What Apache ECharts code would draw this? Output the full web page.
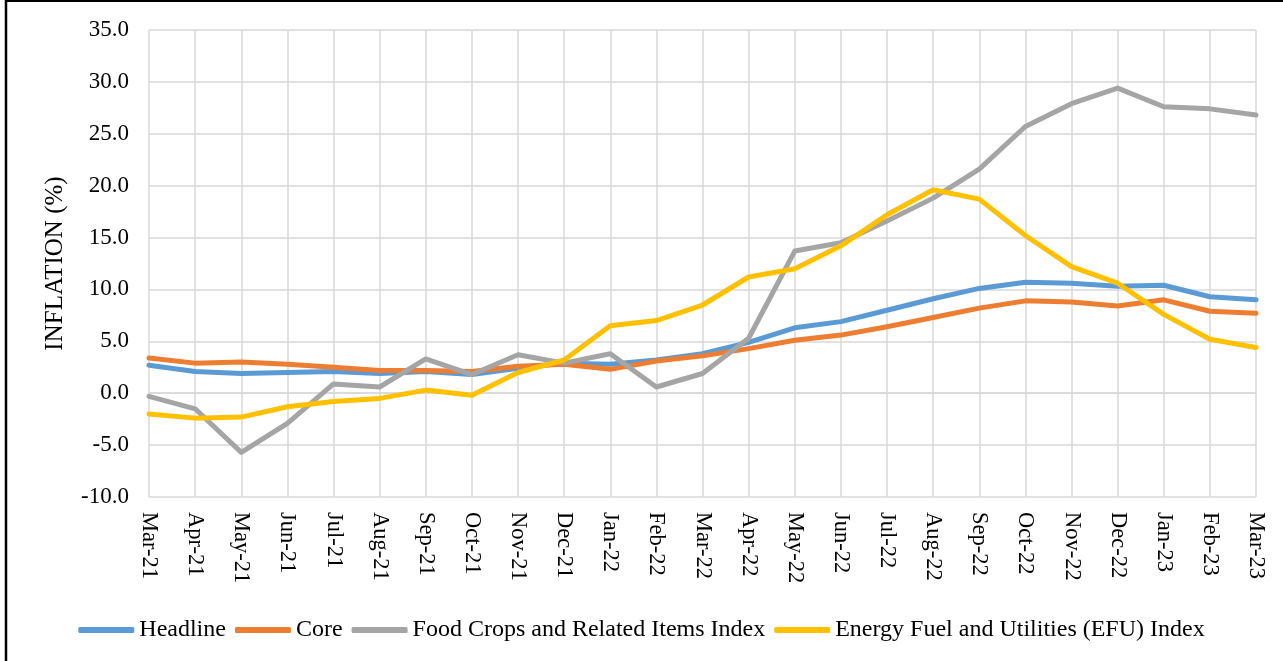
<!DOCTYPE html>
<html>
<head>
<meta charset="utf-8">
<script src="https://cdn.jsdelivr.net/npm/echarts@6/dist/echarts.min.js"></script>
<style>
html,body{margin:0;padding:0;background:#fff;}
#chart{width:1283px;height:661px;}
</style>
</head>
<body>
<div id="chart"></div>
<script>
var months = ['Mar-21','Apr-21','May-21','Jun-21','Jul-21','Aug-21','Sep-21','Oct-21','Nov-21','Dec-21','Jan-22','Feb-22','Mar-22','Apr-22','May-22','Jun-22','Jul-22','Aug-22','Sep-22','Oct-22','Nov-22','Dec-22','Jan-23','Feb-23','Mar-23'];
var headline = [2.7, 2.1, 1.9, 2.0, 2.1, 1.9, 2.1, 1.8, 2.4, 2.9, 2.8, 3.2, 3.8, 4.9, 6.3, 6.9, 8.0, 9.1, 10.1, 10.7, 10.6, 10.3, 10.4, 9.3, 9.0];
var core = [3.4, 2.9, 3.0, 2.8, 2.5, 2.2, 2.2, 2.1, 2.6, 2.8, 2.3, 3.1, 3.6, 4.3, 5.1, 5.6, 6.4, 7.3, 8.2, 8.9, 8.8, 8.4, 9.0, 7.9, 7.7];
var food = [-0.3, -1.5, -5.7, -2.9, 0.9, 0.6, 3.3, 1.8, 3.7, 2.9, 3.8, 0.6, 1.9, 5.3, 13.7, 14.5, 16.6, 18.8, 21.6, 25.7, 27.9, 29.4, 27.6, 27.4, 26.8];
var efu = [-2.0, -2.4, -2.3, -1.3, -0.8, -0.5, 0.3, -0.2, 2.0, 3.2, 6.5, 7.0, 8.5, 11.2, 12.0, 14.2, 17.2, 19.6, 18.7, 15.2, 12.2, 10.6, 7.6, 5.2, 4.4];
var seriesNames = ['Headline','Core','Food Crops and Related Items Index','Energy Fuel and Utilities (EFU) Index'];
var seriesColors = ['#5B9BD5','#ED7D31','#A5A5A5','#FFC000'];
var seriesData = [headline, core, food, efu];

var FONT = '"Liberation Serif", "Times New Roman", serif';
var chart = echarts.init(document.getElementById('chart'));
var series = seriesData.map(function (d, i) {
  return {
    name: seriesNames[i],
    type: 'line',
    data: d,
    symbol: 'none',
    smooth: false,
    color: seriesColors[i],
    lineStyle: { width: 5, color: seriesColors[i], cap: 'round', join: 'round' }
  };
});
chart.setOption({
  animation: false,
  backgroundColor: '#fff',
  graphic: [
    { type: 'line', shape: { x1: 6, y1: 0, x2: 6, y2: 661 }, style: { stroke: '#000', lineWidth: 2.5 } },
    { type: 'line', shape: { x1: 5, y1: 1, x2: 1283, y2: 1 }, style: { stroke: '#000', lineWidth: 2 } }
  ],
  grid: { left: 149, right: 27, top: 30, bottom: 164, containLabel: false },
  legend: {
    data: seriesNames,
    left: 'center',
    top: 613,
    itemWidth: 56,
    itemHeight: 6,
    itemGap: 9,
    icon: 'roundRect',
    textStyle: { fontFamily: FONT, fontSize: 24, color: '#000' }
  },
  xAxis: {
    type: 'category',
    data: months,
    boundaryGap: false,
    axisLine: { show: true, lineStyle: { color: '#d9d9d9', width: 1.5 } },
    axisTick: { show: false },
    axisLabel: { rotate: -90, margin: 15, fontFamily: FONT, fontSize: 22.5, color: '#000', interval: 0 },
    splitLine: { show: true, lineStyle: { color: '#d9d9d9', width: 1.5 } }
  },
  yAxis: {
    type: 'value',
    min: -10,
    max: 35,
    interval: 5,
    name: 'INFLATION (%)',
    nameLocation: 'middle',
    nameGap: 81,
    nameTextStyle: { fontFamily: FONT, fontSize: 25, color: '#000' },
    axisLine: { show: false },
    axisTick: { show: false },
    axisLabel: { margin: 20, fontFamily: FONT, fontSize: 23, color: '#000', formatter: function (v) { return v.toFixed(1); } },
    splitLine: { show: true, lineStyle: { color: '#d9d9d9', width: 1.5 } }
  },
  series: series
});
</script>
</body>
</html>
